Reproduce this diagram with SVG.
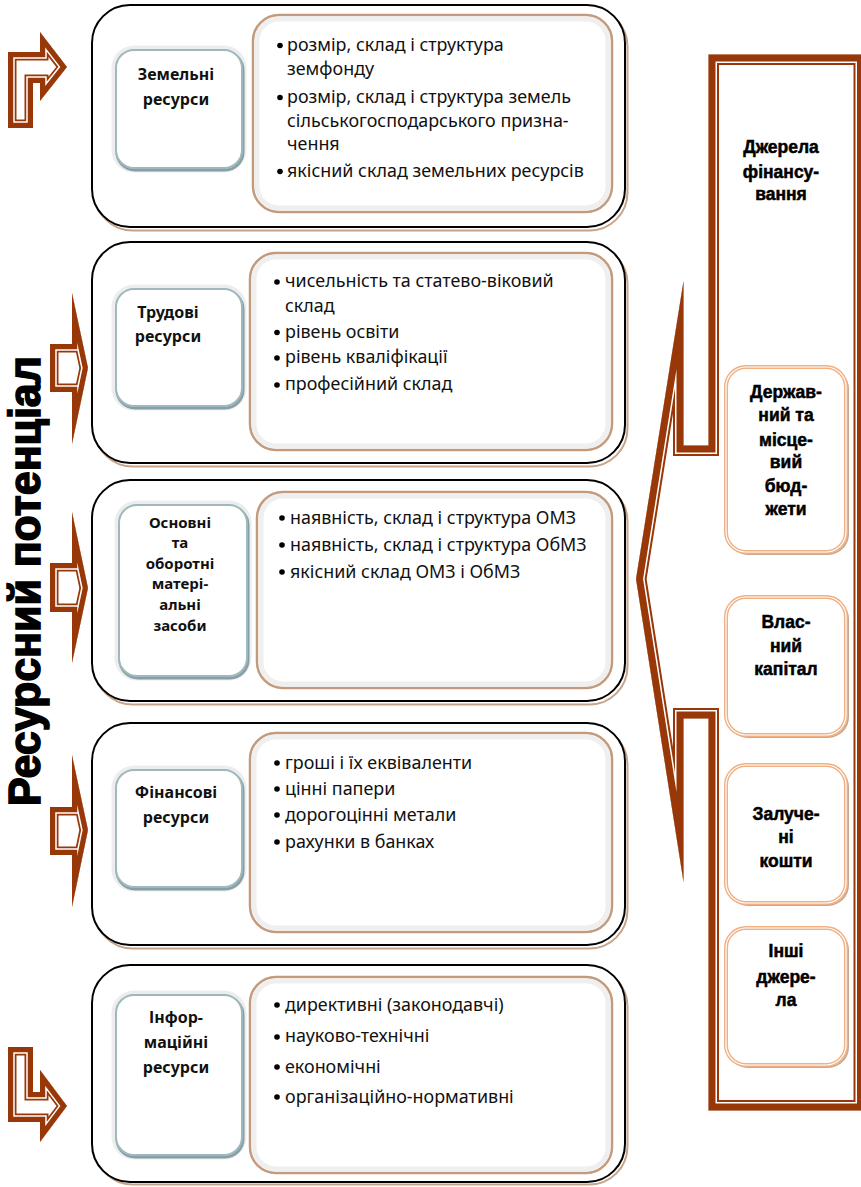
<svg xmlns="http://www.w3.org/2000/svg" xmlns:xlink="http://www.w3.org/1999/xlink" width="861" height="1187" viewBox="0 0 861 1187">
<style>
.ob{fill:#fff;stroke:#000;stroke-width:2}
.obs{fill:none;stroke:#C9A386;stroke-width:2}
.lbg{fill:none;stroke:#EDEDED;stroke-width:9}
.lbs{fill:none;stroke:#86A0A6;stroke-width:3}
.lb{fill:#fff;stroke:#9FB8BD;stroke-width:2}
.cb{fill:#fff;stroke:#C49A7C;stroke-width:2.5}
.cbi{fill:none;stroke:#EFEFEF;stroke-width:5}
.rb{fill:#fff;stroke:#F0B083;stroke-width:4}
.rbi{fill:none;stroke:#fff;stroke-width:1.2}
.rbs{fill:none;stroke:#C9A88F;stroke-width:2}
.t{font-family:"Noto Sans","DejaVu Sans",sans-serif;font-size:17.9px;fill:#111}
.lt{font-family:"Noto Sans","DejaVu Sans",sans-serif;font-size:16px;font-weight:bold;fill:#111;text-anchor:middle}
.lt3{font-size:15px}
.rt{font-family:"Liberation Sans",Arial,sans-serif;font-size:17.5px;font-weight:bold;fill:#000;stroke:#000;stroke-width:0.5;text-anchor:middle}
.title{font-family:"Liberation Sans",Arial,sans-serif;font-size:44px;font-weight:bold;fill:#000;stroke:#000;stroke-width:1.6;text-anchor:middle}
.b1{fill:none;stroke:#983808;stroke-linejoin:miter;stroke-miterlimit:30}
.w1{fill:none;stroke:#fff;stroke-linejoin:miter;stroke-miterlimit:30}
.af{fill:#fff;stroke:none}
</style>
<defs>
<path id="pf" d="M708.5 54.5 L708.5 445.5 L683.5 445.5 L683.5 281 L636 579 L683.5 882 L683.5 718.5 L708.5 718.5 L708.5 1110.5 L864 1110.5 L864 54.5 Z"/>
<path id="pa1" d="M8 128 L8 52 L40 52 L40 32 L67 67 L40 101 L40 83 L33 83 L33 128 Z"/>
<path id="pa2" d="M50 344 L72 344 L72 293 L88 368 L72 444 L72 392 L50 392 Z"/>
<path id="pa3" d="M50 563 L72 563 L72 512 L88 588 L72 663 L72 612 L50 612 Z"/>
<path id="pa4" d="M50 807 L72 807 L72 755 L88 830 L72 907 L72 855 L50 855 Z"/>
<path id="pa5" d="M8 1047 L33 1047 L33 1092 L40 1092 L40 1070 L67 1106 L40 1142 L40 1122 L8 1122 Z"/>
<clipPath id="cf"><use xlink:href="#pf"/></clipPath>
<clipPath id="ca1"><use xlink:href="#pa1"/></clipPath>
<clipPath id="ca2"><use xlink:href="#pa2"/></clipPath>
<clipPath id="ca3"><use xlink:href="#pa3"/></clipPath>
<clipPath id="ca4"><use xlink:href="#pa4"/></clipPath>
<clipPath id="ca5"><use xlink:href="#pa5"/></clipPath>
</defs>
<rect width="861" height="1187" fill="#fff"/>

<!-- connectors: arrows and frame -->
<g id="connectors">
  <g id="frame">
    <use xlink:href="#pf" class="af"/>
    <g clip-path="url(#cf)">
      <use xlink:href="#pf" class="b1" stroke-width="21"/>
      <use xlink:href="#pf" class="w1" stroke-width="17"/>
      <use xlink:href="#pf" class="b1" stroke-width="14"/>
    </g>
  </g>
  <g id="arrow1">
    <use xlink:href="#pa1" class="af"/>
    <g clip-path="url(#ca1)">
      <use xlink:href="#pa1" class="b1" stroke-width="17"/>
      <use xlink:href="#pa1" class="w1" stroke-width="13.5"/>
      <use xlink:href="#pa1" class="b1" stroke-width="10.5"/>
    </g>
  </g>
  <g id="arrow2">
    <use xlink:href="#pa2" class="af"/>
    <g clip-path="url(#ca2)">
      <use xlink:href="#pa2" class="b1" stroke-width="17"/>
      <use xlink:href="#pa2" class="w1" stroke-width="13.5"/>
      <use xlink:href="#pa2" class="b1" stroke-width="10.5"/>
    </g>
  </g>
  <g id="arrow3">
    <use xlink:href="#pa3" class="af"/>
    <g clip-path="url(#ca3)">
      <use xlink:href="#pa3" class="b1" stroke-width="17"/>
      <use xlink:href="#pa3" class="w1" stroke-width="13.5"/>
      <use xlink:href="#pa3" class="b1" stroke-width="10.5"/>
    </g>
  </g>
  <g id="arrow4">
    <use xlink:href="#pa4" class="af"/>
    <g clip-path="url(#ca4)">
      <use xlink:href="#pa4" class="b1" stroke-width="17"/>
      <use xlink:href="#pa4" class="w1" stroke-width="13.5"/>
      <use xlink:href="#pa4" class="b1" stroke-width="10.5"/>
    </g>
  </g>
  <g id="arrow5">
    <use xlink:href="#pa5" class="af"/>
    <g clip-path="url(#ca5)">
      <use xlink:href="#pa5" class="b1" stroke-width="17"/>
      <use xlink:href="#pa5" class="w1" stroke-width="13.5"/>
      <use xlink:href="#pa5" class="b1" stroke-width="10.5"/>
    </g>
  </g>
</g>

<!-- vertical title -->
<g id="title">
  <text class="title" transform="translate(40,581) rotate(-90)" textLength="450" lengthAdjust="spacingAndGlyphs">Ресурсний потенціал</text>
</g>

<!-- Block 1 -->
<g id="block1">
  <rect class="obs" x="94.5" y="8.5" width="533" height="222" rx="38"/>
  <rect class="ob" x="92" y="5" width="533" height="222" rx="38"/>
  <rect class="lbg" x="116" y="50" width="126" height="118" rx="18"/>
  <rect class="lbs" x="117" y="52" width="126" height="118" rx="18"/>
  <rect class="lb" x="116" y="50" width="126" height="118" rx="18"/>
  <text class="lt" x="176" y="80">Земельні</text>
  <text class="lt" x="176" y="105">ресурси</text>
  <rect class="cb" x="253" y="15" width="359" height="197" rx="26"/>
  <rect class="cbi" x="257" y="19" width="351" height="189" rx="22"/>
  <circle cx="280" cy="45.5" r="2.8"/>
  <circle cx="280" cy="97.5" r="2.8"/>
  <circle cx="280" cy="171.5" r="2.8"/>
  <text class="t" x="287" y="51">розмір, склад і структура</text>
  <text class="t" x="287" y="75">земфонду</text>
  <text class="t" x="287" y="103">розмір, склад і структура земель</text>
  <text class="t" x="287" y="127">сільськогосподарського призна-</text>
  <text class="t" x="287" y="150">чення</text>
  <text class="t" x="287" y="177">якісний склад земельних ресурсів</text>
</g>

<!-- Block 2 -->
<g id="block2">
  <rect class="obs" x="94.5" y="245.5" width="533" height="221" rx="38"/>
  <rect class="ob" x="92" y="242" width="533" height="221" rx="38"/>
  <rect class="lbg" x="116" y="289" width="126" height="117" rx="18"/>
  <rect class="lbs" x="117" y="291" width="126" height="117" rx="18"/>
  <rect class="lb" x="116" y="289" width="126" height="117" rx="18"/>
  <text class="lt" x="168" y="318">Трудові</text>
  <text class="lt" x="168" y="342">ресурси</text>
  <rect class="cb" x="250" y="253" width="362" height="197" rx="26"/>
  <rect class="cbi" x="254" y="257" width="354" height="189" rx="22"/>
  <circle cx="277" cy="282" r="2.8"/>
  <circle cx="277" cy="332.5" r="2.8"/>
  <circle cx="277" cy="358" r="2.8"/>
  <circle cx="277" cy="385" r="2.8"/>
  <text class="t" x="285" y="287">чисельність та статево-віковий</text>
  <text class="t" x="285" y="312">склад</text>
  <text class="t" x="285" y="338">рівень освіти</text>
  <text class="t" x="285" y="363">рівень кваліфікації</text>
  <text class="t" x="285" y="390">професійний склад</text>
</g>

<!-- Block 3 -->
<g id="block3">
  <rect class="obs" x="94.5" y="483.5" width="533" height="221" rx="38"/>
  <rect class="ob" x="92" y="480" width="533" height="221" rx="38"/>
  <rect class="lbg" x="119" y="505" width="128" height="171" rx="18"/>
  <rect class="lbs" x="120" y="507" width="128" height="171" rx="18"/>
  <rect class="lb" x="119" y="505" width="128" height="171" rx="18"/>
  <text class="lt lt3" x="180" y="528">Основні</text>
  <text class="lt lt3" x="180" y="548">та</text>
  <text class="lt lt3" x="180" y="569">оборотні</text>
  <text class="lt lt3" x="180" y="589">матері-</text>
  <text class="lt lt3" x="180" y="610">альні</text>
  <text class="lt lt3" x="180" y="631">засоби</text>
  <rect class="cb" x="257" y="492" width="355" height="196" rx="26"/>
  <rect class="cbi" x="261" y="496" width="347" height="188" rx="22"/>
  <circle cx="282" cy="518" r="2.8"/>
  <circle cx="282" cy="545" r="2.8"/>
  <circle cx="282" cy="572" r="2.8"/>
  <text class="t" x="290" y="524">наявність, склад і структура ОМЗ</text>
  <text class="t" x="290" y="551">наявність, склад і структура ОбМЗ</text>
  <text class="t" x="290" y="578">якісний склад ОМЗ і ОбМЗ</text>
</g>

<!-- Block 4 -->
<g id="block4">
  <rect class="obs" x="94.5" y="726.5" width="533" height="222" rx="38"/>
  <rect class="ob" x="92" y="723" width="533" height="222" rx="38"/>
  <rect class="lbg" x="116" y="770" width="126" height="117" rx="18"/>
  <rect class="lbs" x="117" y="772" width="126" height="117" rx="18"/>
  <rect class="lb" x="116" y="770" width="126" height="117" rx="18"/>
  <text class="lt" x="176" y="798">Фінансові</text>
  <text class="lt" x="176" y="823">ресурси</text>
  <rect class="cb" x="250" y="733" width="362" height="199" rx="26"/>
  <rect class="cbi" x="254" y="737" width="354" height="191" rx="22"/>
  <circle cx="277" cy="763" r="2.8"/>
  <circle cx="277" cy="789" r="2.8"/>
  <circle cx="277" cy="815" r="2.8"/>
  <circle cx="277" cy="842" r="2.8"/>
  <text class="t" x="285" y="769">гроші і їх еквіваленти</text>
  <text class="t" x="285" y="795">цінні папери</text>
  <text class="t" x="285" y="821">дорогоцінні метали</text>
  <text class="t" x="285" y="848">рахунки в банках</text>
</g>

<!-- Block 5 -->
<g id="block5">
  <rect class="obs" x="94.5" y="968.5" width="533" height="216" rx="38"/>
  <rect class="ob" x="92" y="965" width="533" height="217" rx="38"/>
  <rect class="lbg" x="116" y="995" width="126" height="160" rx="18"/>
  <rect class="lbs" x="117" y="997" width="126" height="160" rx="18"/>
  <rect class="lb" x="116" y="995" width="126" height="160" rx="18"/>
  <text class="lt" x="176" y="1023">Інфор-</text>
  <text class="lt" x="176" y="1048">маційні</text>
  <text class="lt" x="176" y="1073">ресурси</text>
  <rect class="cb" x="250" y="977" width="362" height="196" rx="26"/>
  <rect class="cbi" x="254" y="981" width="354" height="188" rx="22"/>
  <circle cx="277" cy="1005" r="2.8"/>
  <circle cx="277" cy="1037" r="2.8"/>
  <circle cx="277" cy="1067" r="2.8"/>
  <circle cx="277" cy="1097" r="2.8"/>
  <text class="t" x="285" y="1011">директивні (законодавчі)</text>
  <text class="t" x="285" y="1042">науково-технічні</text>
  <text class="t" x="285" y="1073">економічні</text>
  <text class="t" x="285" y="1103">організаційно-нормативні</text>
</g>

<!-- Right column -->
<g id="sources-title">
  <text class="rt" x="781" y="153">Джерела</text>
  <text class="rt" x="781" y="178">фінансу-</text>
  <text class="rt" x="781" y="200">вання</text>
</g>
<g id="budget">
  <rect class="rbs" x="728" y="369" width="120" height="185" rx="20"/>
  <rect class="rb" x="726" y="367" width="120" height="185" rx="20"/>
  <rect class="rbi" x="726" y="367" width="120" height="185" rx="20"/>
  <text class="rt" x="786" y="398">Держав-</text>
  <text class="rt" x="786" y="421">ний та</text>
  <text class="rt" x="786" y="446">місце-</text>
  <text class="rt" x="786" y="468">вий</text>
  <text class="rt" x="786" y="492">бюд-</text>
  <text class="rt" x="786" y="515">жети</text>
</g>
<g id="own-capital">
  <rect class="rbs" x="728" y="599" width="120" height="138" rx="20"/>
  <rect class="rb" x="726" y="597" width="120" height="138" rx="20"/>
  <rect class="rbi" x="726" y="597" width="120" height="138" rx="20"/>
  <text class="rt" x="786" y="628">Влас-</text>
  <text class="rt" x="786" y="652">ний</text>
  <text class="rt" x="786" y="675">капітал</text>
</g>
<g id="borrowed">
  <rect class="rbs" x="728" y="767" width="120" height="138" rx="20"/>
  <rect class="rb" x="726" y="765" width="120" height="138" rx="20"/>
  <rect class="rbi" x="726" y="765" width="120" height="138" rx="20"/>
  <text class="rt" x="786" y="820">Залуче-</text>
  <text class="rt" x="786" y="843">ні</text>
  <text class="rt" x="786" y="867">кошти</text>
</g>
<g id="other">
  <rect class="rbs" x="728" y="930" width="120" height="137" rx="20"/>
  <rect class="rb" x="726" y="928" width="120" height="137" rx="20"/>
  <rect class="rbi" x="726" y="928" width="120" height="137" rx="20"/>
  <text class="rt" x="786" y="957">Інші</text>
  <text class="rt" x="786" y="983">джере-</text>
  <text class="rt" x="786" y="1006">ла</text>
</g>
</svg>
